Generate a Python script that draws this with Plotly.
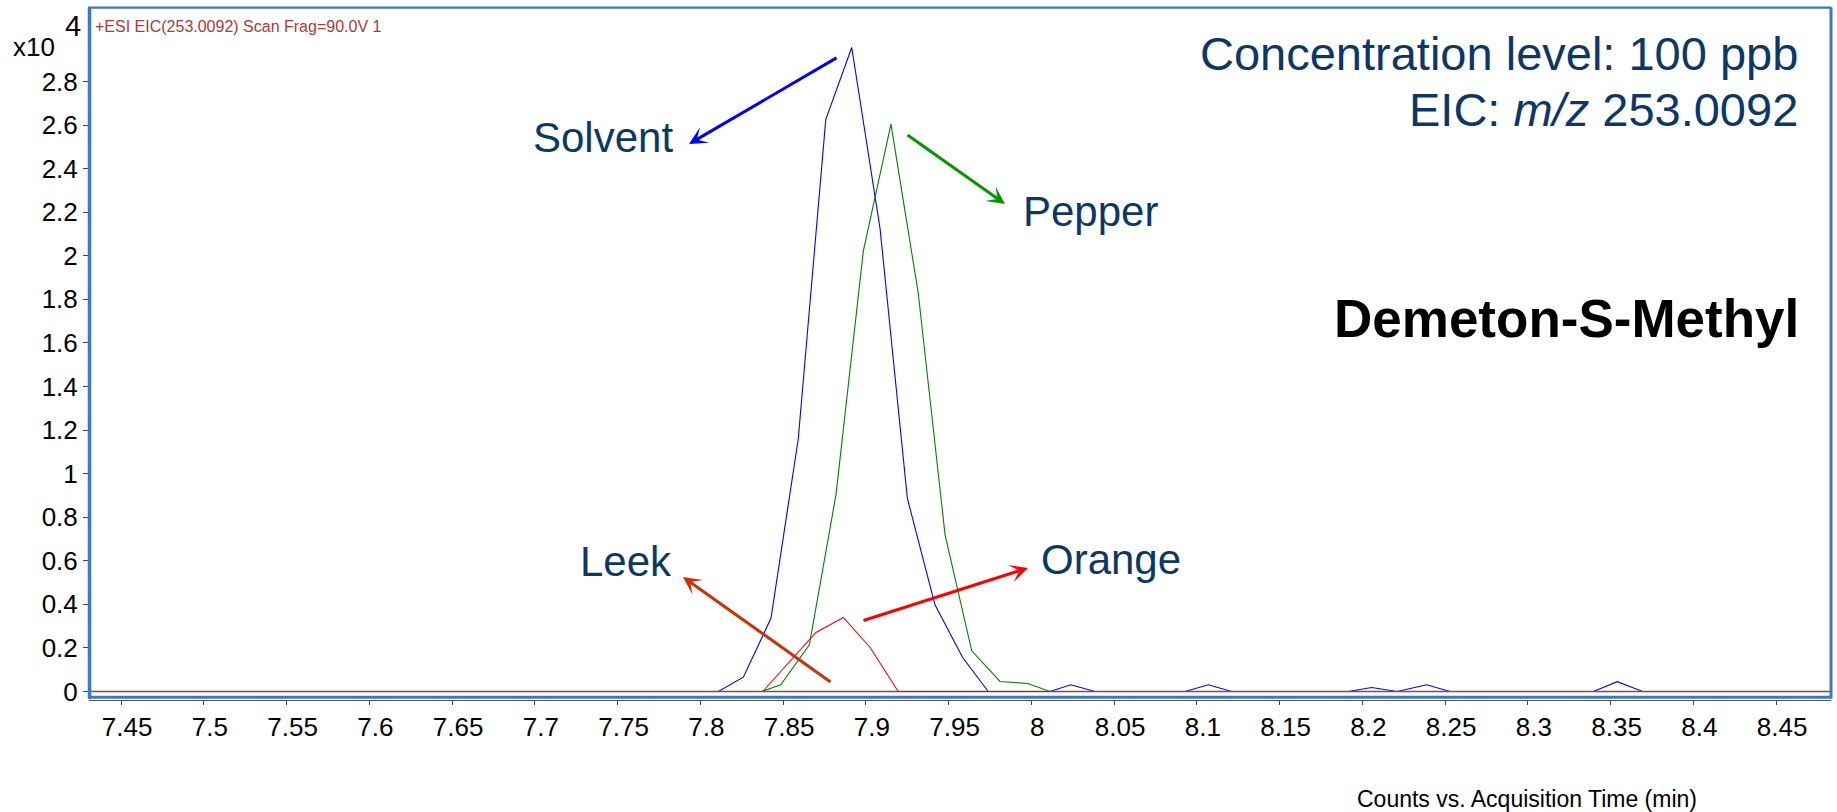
import plotly.graph_objects as go

# ---------------- data (counts in units of 1e4) ----------------
solvent_time = [7.4306, 7.8109, 7.8260, 7.8427, 7.8592, 7.8758, 7.8915, 7.9086, 7.9251,
                7.9418, 7.9585, 7.9740, 8.0113, 8.0238, 8.0385, 8.0929, 8.1070, 8.1211,
                8.1915, 8.2057, 8.2210, 8.2389, 8.2530, 8.3396, 8.3541, 8.3694, 8.4832]
solvent_counts = [0, 0, 0.066, 0.336, 1.16, 2.625, 2.956, 2.126, 0.887,
                  0.398, 0.156, 0, 0, 0.031, 0, 0, 0.031, 0,
                  0, 0.018, 0, 0.031, 0, 0, 0.045, 0, 0]

pepper_time = [7.4306, 7.8371, 7.8486, 7.8659, 7.8820, 7.8985, 7.9152, 7.9317,
               7.9479, 7.9640, 7.9811, 7.9978, 8.0113, 8.4832]
pepper_counts = [0, 0, 0.031, 0.214, 0.904, 2.021, 2.604, 1.828,
                 0.719, 0.187, 0.046, 0.037, 0, 0]

leek_time = [7.4306, 8.4832]
leek_counts = [0, 0]

orange_time = [7.8377, 7.8699, 7.8864, 7.9026, 7.9196, 8.0113]
orange_counts = [0, 0.271, 0.340, 0.202, 0, 0]

x_tick_vals = [7.45, 7.5, 7.55, 7.6, 7.65, 7.7, 7.75, 7.8, 7.85, 7.9, 7.95, 8.0,
               8.05, 8.1, 8.15, 8.2, 8.25, 8.3, 8.35, 8.4, 8.45]
x_tick_text = ["7.45", "7.5", "7.55", "7.6", "7.65", "7.7", "7.75", "7.8", "7.85", "7.9",
               "7.95", "8", "8.05", "8.1", "8.15", "8.2", "8.25", "8.3", "8.35", "8.4", "8.45"]
y_tick_vals = [0, 0.2, 0.4, 0.6, 0.8, 1.0, 1.2, 1.4, 1.6, 1.8, 2.0, 2.2, 2.4, 2.6, 2.8]
y_tick_text = ["0", "0.2", "0.4", "0.6", "0.8", "1", "1.2", "1.4", "1.6", "1.8",
               "2", "2.2", "2.4", "2.6", "2.8"]

# ---------------- layout geometry ----------------
W, H = 1837, 812
L, R, T, B = 89, 6, 7, 112
PW, PH = W - L - R, H - T - B
FONT = "Liberation Sans, Arial, sans-serif"
NAVY = "#0B3868"


def px(X):
    return (X - L) / PW


def py(Y):
    return (H - B - Y) / PH


fig = go.Figure()
fig.add_trace(go.Scatter(x=solvent_time, y=solvent_counts, mode="lines", name="Solvent",
                         line=dict(color="#0000FF", width=1.1)))
fig.add_trace(go.Scatter(x=pepper_time, y=pepper_counts, mode="lines", name="Pepper",
                         line=dict(color="#008000", width=1.1)))
fig.add_trace(go.Scatter(x=leek_time, y=leek_counts, mode="lines", name="Leek",
                         line=dict(color="#8B4A35", width=1.6)))
fig.add_trace(go.Scatter(x=orange_time, y=orange_counts, mode="lines", name="Orange",
                         line=dict(color="#FF0000", width=1.1)))

ann = []


def text(X, Y, s, size, color=NAVY, anchor="left", bold=False):
    ann.append(dict(xref="paper", yref="paper", x=px(X), y=py(Y), text=s, showarrow=False,
                    xanchor=anchor, yanchor="middle",
                    font=dict(family=FONT, size=size, color=color,
                              weight="bold" if bold else "normal")))


def arrow(tail, tip, color):
    ann.append(dict(xref="paper", yref="paper", x=px(tip[0]), y=py(tip[1]), text="",
                    showarrow=True, ax=tail[0] - tip[0], ay=tail[1] - tip[1],
                    arrowcolor=color, arrowwidth=3, arrowhead=3, arrowsize=1.0, standoff=0))


text(531, 138, "Solvent", 42)
text(1021, 211, "Pepper", 42)
text(578, 561, "Leek", 42)
text(1039, 559, "Orange", 42)
text(1800, 53, "Concentration level: 100 ppb", 47, anchor="right")
text(1800, 109, "EIC: <i>m/z</i> 253.0092", 47, anchor="right")
text(1801, 318, "Demeton-S-Methyl", 53, color="black", anchor="right", bold=True)
text(93, 27, "+ESI EIC(253.0092) Scan Frag=90.0V 1", 16, color="#B0383A")
text(11, 47, "x10", 26, color="black")
text(63, 26, "4", 29, color="black")
text(1527, 799, "Counts vs. Acquisition Time (min)", 23, color="black", anchor="center")

arrow((838, 57), (689, 144), "#0000FF")
arrow((906, 134), (1005, 204), "#009900")
arrow((832, 683), (683, 577), "#CC3300")
arrow((862, 621), (1028, 568), "#FF0000")

FRAME = "#3C78C8"
shapes = [
    dict(type="line", xref="paper", yref="paper", x0=px(89.5), x1=px(89.5), y0=py(7.5), y1=py(698.5),
         line=dict(color=FRAME, width=3.5)),
    dict(type="line", xref="paper", yref="paper", x0=px(88), x1=px(1831.5), y0=py(697.3), y1=py(697.3),
         line=dict(color=FRAME, width=3)),
    dict(type="line", xref="paper", yref="paper", x0=px(88), x1=px(1831.5), y0=py(7.6), y1=py(7.6),
         line=dict(color=FRAME, width=2.2)),
    dict(type="line", xref="paper", yref="paper", x0=px(1831), x1=px(1831), y0=py(7.5), y1=py(698.5),
         line=dict(color=FRAME, width=3)),
]

x0 = 8 + (L - 1031.3) / 1655
x1 = 8 + (W - R - 1031.3) / 1655
zero_px = 691.5
y0 = -(H - B - zero_px) / 217.86
y1 = (zero_px - T) / 217.86

fig.update_layout(
    width=W, height=H, margin=dict(l=L, r=R, t=T, b=B, pad=0),
    paper_bgcolor="white", plot_bgcolor="white", showlegend=False,
    annotations=ann, shapes=shapes,
    font=dict(family=FONT, color="black"),
    xaxis=dict(range=[x0, x1], tickvals=x_tick_vals, ticktext=x_tick_text,
               ticks="outside", ticklen=4, tickwidth=1, tickcolor="#444",
               showline=True, linecolor="#555", linewidth=1, showgrid=False, zeroline=False,
               tickfont=dict(size=26, family=FONT, color="black"), ticklabelshift=6),
    yaxis=dict(range=[y0, y1], tickvals=y_tick_vals, ticktext=y_tick_text,
               ticks="outside", ticklen=5, tickwidth=1, tickcolor="#444",
               showline=False, showgrid=False, zeroline=False,
               tickfont=dict(size=26, family=FONT, color="black")),
)

fig.write_html("out.html")
